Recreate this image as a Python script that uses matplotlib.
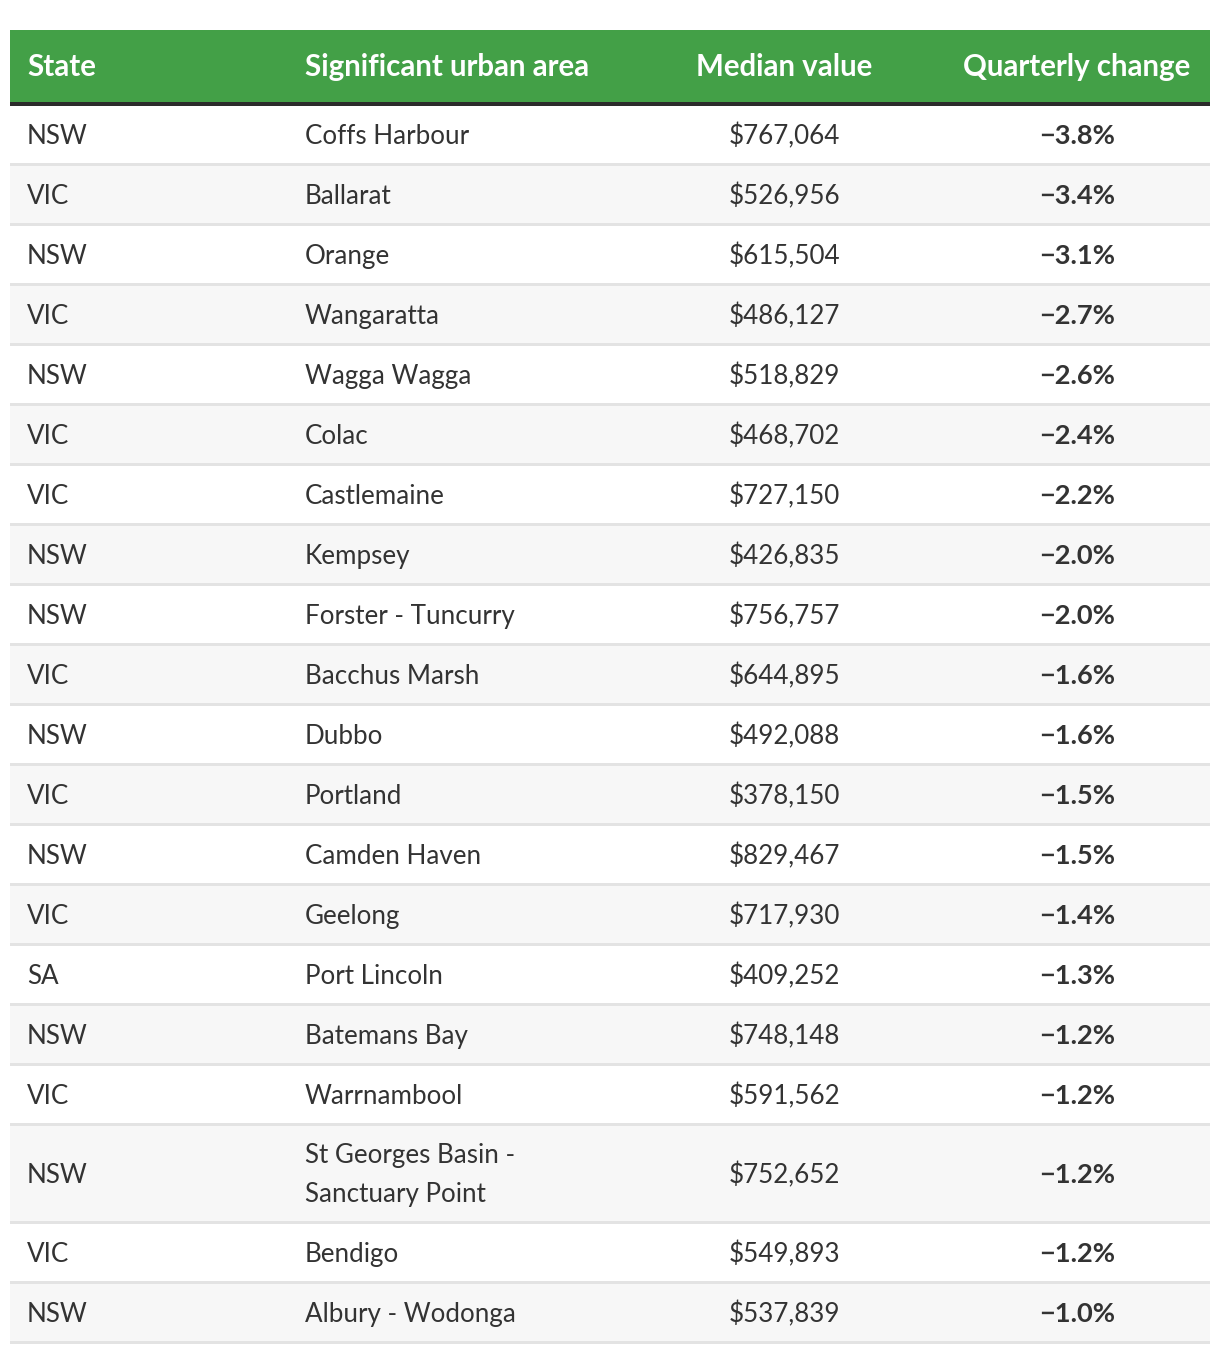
import matplotlib
matplotlib.use("Agg")
import matplotlib.pyplot as plt
from matplotlib.patches import Rectangle

headers = ["State", "Significant urban area", "Median value", "Quarterly change"]
states = ["NSW", "VIC", "NSW", "VIC", "NSW", "VIC", "VIC", "NSW", "NSW", "VIC",
          "NSW", "VIC", "NSW", "VIC", "SA", "NSW", "VIC", "NSW", "VIC", "NSW"]
areas = ["Coffs Harbour", "Ballarat", "Orange", "Wangaratta", "Wagga Wagga", "Colac",
         "Castlemaine", "Kempsey", "Forster - Tuncurry", "Bacchus Marsh", "Dubbo",
         "Portland", "Camden Haven", "Geelong", "Port Lincoln", "Batemans Bay",
         "Warrnambool", "St Georges Basin -\nSanctuary Point", "Bendigo", "Albury - Wodonga"]
median_values = [767064, 526956, 615504, 486127, 518829, 468702, 727150, 426835, 756757,
                 644895, 492088, 378150, 829467, 717930, 409252, 748148, 591562, 752652,
                 549893, 537839]
quarterly_change = [-3.8, -3.4, -3.1, -2.7, -2.6, -2.4, -2.2, -2.0, -2.0, -1.6, -1.6,
                    -1.5, -1.5, -1.4, -1.3, -1.2, -1.2, -1.2, -1.2, -1.0]

W, H = 1220, 1352
fig = plt.figure(figsize=(W / 100, H / 100), dpi=100)
ax = fig.add_axes([0, 0, 1, 1])
ax.set_xlim(0, W)
ax.set_ylim(H, 0)
ax.axis("off")

FONT = "Lato"
px = 0.72
green = "#43a047"
txt = "#333333"

x0, x1 = 10, 1210
head_top, head_bot = 30, 102
ax.add_patch(Rectangle((x0, head_top), x1 - x0, head_bot - head_top, color=green, lw=0))
ax.add_patch(Rectangle((x0, head_bot), x1 - x0, 3.5, color="#2b2b2b", lw=0))

col_x = [27, 305, 784, 1077]
col_ha = ["left", "left", "center", "center"]
hy = (head_top + head_bot) / 2 + 1
for h, x, ha in zip(headers, col_x, col_ha):
    ax.text(x, hy, h, ha=ha, va="center", color="white", fontsize=29.5 * px,
            fontweight="bold", family=FONT)

y = 105.5
for i, (s, a, v, c) in enumerate(zip(states, areas, median_values, quarterly_change)):
    nlines = a.count("\n") + 1
    h = 60 + 38 * (nlines - 1)
    if i % 2 == 1:
        ax.add_patch(Rectangle((x0, y), x1 - x0, h, color="#f7f7f7", lw=0))
    ax.add_patch(Rectangle((x0, y + h - 2.5), x1 - x0, 2.5, color="#e3e3e3", lw=0))
    cy = y + (h - 2.5) / 2 + 1.8
    fs = 26 * px
    ax.text(col_x[0], cy, s, ha="left", va="center", color=txt, fontsize=fs, family=FONT)
    ax.text(col_x[1], cy, a, ha="left", va="center", color=txt, fontsize=fs, family=FONT,
            linespacing=1.68)
    ax.text(col_x[2], cy, "${:,}".format(v), ha="center", va="center", color=txt,
            fontsize=fs, family=FONT)
    ax.text(col_x[3], cy, "\u2212{:.1f}%".format(abs(c)), ha="center", va="center",
            color=txt, fontsize=fs * 1.05, fontweight="bold", family=FONT)
    y += h

fig.savefig("out.png", dpi=100, facecolor="white")
